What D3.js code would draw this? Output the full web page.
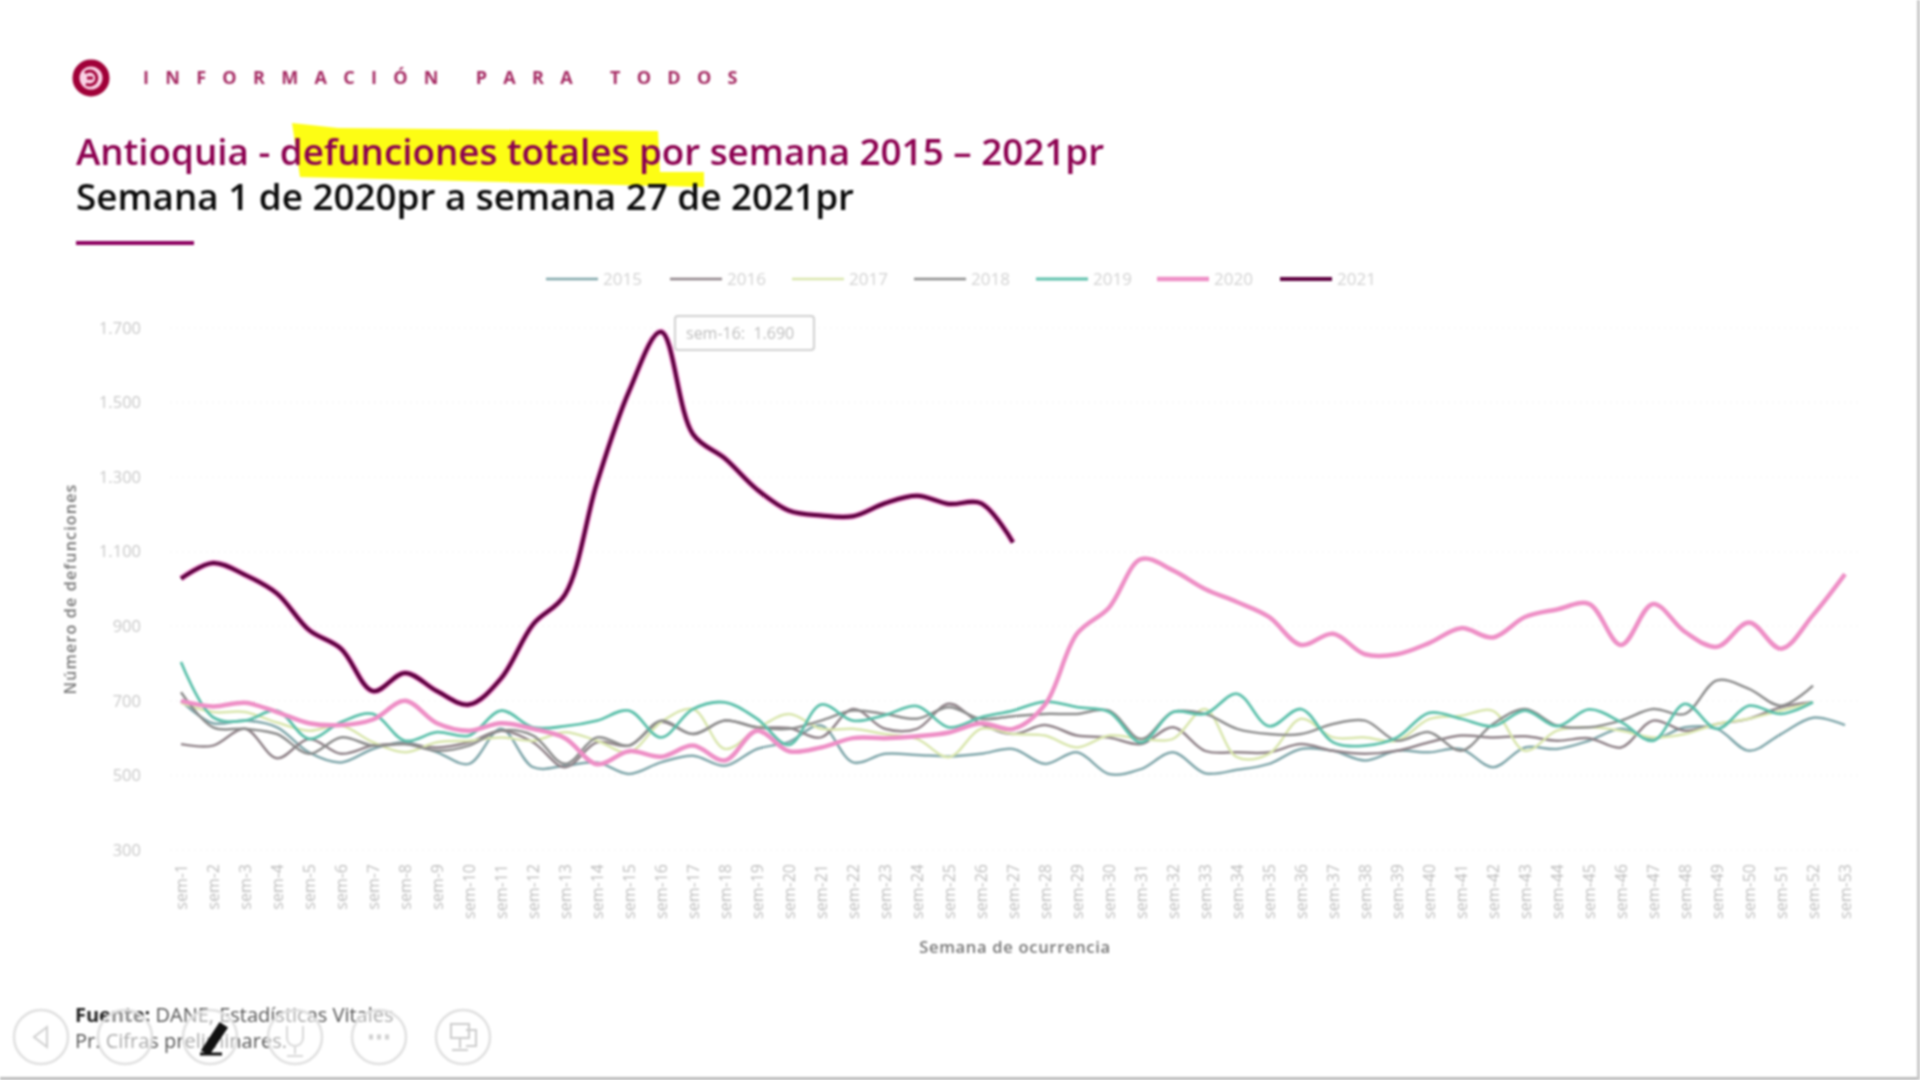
<!DOCTYPE html>
<html lang="es">
<head>
<meta charset="utf-8">
<title>Antioquia - defunciones totales por semana</title>
<script src="https://cdnjs.cloudflare.com/ajax/libs/d3/7.8.5/d3.min.js"></script>
<style>
  html, body { margin: 0; background: #fff; }
  svg { display: block; }
  text { font-family: "Open Sans", "Noto Sans", sans-serif; }
  #page { filter: blur(1px); }
</style>
</head>
<body>
<svg id="chart" width="1920" height="1080"></svg>
<script>
// values, by week
var weeks = [];
for (var w = 1; w <= 53; w++) weeks.push("sem-" + w);

var y2015 = [700,640,647,629,562,535,571,589,562,531,625,522,526,535,504,535,553,526,571,590,634,535,558,555,551,558,571,531,562,504,517,562,506,515,531,571,566,540,566,562,571,522,575,571,593,625,598,629,625,566,611,655,635];
var y2016 = [584,580,625,546,598,558,580,584,575,589,620,589,522,589,580,643,611,647,629,627,602,678,625,625,692,638,611,635,607,602,584,629,566,562,562,584,566,558,566,589,607,602,605,593,600,575,647,620,638,652,683,696];
var y2017 = [695,670,670,642,620,634,589,562,589,593,602,593,616,593,562,643,678,571,625,665,625,625,611,598,549,625,611,607,575,607,598,598,678,549,558,652,602,602,593,651,660,673,566,620,629,620,602,611,638,652,674,696];
var y2018 = [723,629,625,611,558,602,580,584,566,580,620,607,531,602,580,647,611,647,629,625,647,674,665,652,683,652,659,665,665,674,598,670,665,625,611,611,638,647,593,616,566,638,678,634,629,647,678,665,755,732,687,741];
var y2019 = [804,656,647,674,598,643,665,593,616,607,674,629,632,647,674,602,678,696,652,582,690,647,662,686,629,656,674,698,683,670,589,670,665,719,632,678,589,580,602,668,652,632,674,632,677,643,593,692,625,687,665,696];
var y2020 = [700,685,695,670,640,635,650,700,640,620,640,625,600,530,565,550,580,540,620,565,575,600,600,605,615,640,625,690,880,950,1080,1050,1000,965,925,850,880,825,825,855,895,870,925,945,960,850,960,885,845,910,840,930,1040];
var y2021 = [1028,1070,1038,988,890,840,726,775,726,690,760,905,985,1285,1530,1690,1415,1350,1267,1210,1197,1195,1230,1250,1228,1230,1125];

var seriesNames = ["2015","2016","2017","2018","2019","2020","2021"];
var seriesValues = [y2015,y2016,y2017,y2018,y2019,y2020,y2021];
var seriesColors = ["#7fa6aa","#8f8288","#d9e6ad","#8c8c8c","#5cc0ab","#ee8fc6","#5e0040"];
var seriesWidths = [2.5,2.5,2.5,2.5,2.8,4.5,4];

var yTicks = [300,500,700,900,1100,1300,1500,1700];
var yTickLabels = ["300","500","700","900","1.100","1.300","1.500","1.700"];

var peakLabel = "sem-16:\u00a0\u00a01.690";

var svg = d3.select("#chart");
var page = svg.append("g").attr("id", "page");

page.append("rect").attr("width", 1920).attr("height", 1080).attr("fill", "#fff");

var margin = {top: 328, right: 75, bottom: 230, left: 181};
var x = d3.scalePoint().domain(weeks).range([margin.left, 1920 - margin.right]);
var y = d3.scaleLinear().domain([300, 1700]).range([1080 - margin.bottom, margin.top]);

// Header
page.append("circle").attr("cx", 91).attr("cy", 78).attr("r", 15)
    .attr("fill", "#fbd3e6").attr("stroke", "#a00038").attr("stroke-width", 7);
page.append("path").attr("d", "M85 73 A7 7 0 1 1 86 84 M87 78 h6")
    .attr("fill", "none").attr("stroke", "#a00038").attr("stroke-width", 3);
page.append("text").text("INFORMACIÓN PARA TODOS")
    .attr("x", 143).attr("y", 84)
    .attr("font-size", 18).attr("font-weight", 700)
    .attr("letter-spacing", 16.3).attr("fill", "#a52a63");

// yellow marker behind the title
page.append("path")
    .attr("d", "M292 123 L338 128 L658 131 L660 172 L704 172 L704 187 L660 186 L300 177 L296 150 Z")
    .attr("fill", "#fdfd14");

page.append("text").text("Antioquia - defunciones totales por semana 2015 – 2021pr")
    .attr("x", 76).attr("y", 165)
    .attr("font-size", 36.8).attr("font-weight", 600).attr("fill", "#8c0050");
page.append("text").text("Semana 1 de 2020pr a semana 27 de 2021pr")
    .attr("x", 76).attr("y", 210)
    .attr("font-size", 36.8).attr("font-weight", 600).attr("fill", "#0a0a0a");
page.append("rect").attr("x", 76).attr("y", 241).attr("width", 118).attr("height", 4).attr("fill", "#8c0060");

// Legend
var legendX = [546,670,792,914,1036,1157,1280];
var legend = page.selectAll(".legend").data(seriesNames).enter().append("g")
    .attr("class", "legend")
    .attr("transform", function(d, i) { return "translate(" + legendX[i] + ",279)"; });
legend.append("line").attr("x1", 0).attr("x2", 52)
    .attr("stroke", function(d, i) { return seriesColors[i]; })
    .attr("stroke-width", function(d, i) { return i < 4 ? 2.5 : seriesWidths[i]; });
legend.append("text").text(function(d) { return d; })
    .attr("x", 57).attr("y", 6).attr("font-size", 17).attr("fill", "#d2d2d2");

// Axes
var axisY = page.append("g").attr("class", "axis axis-y")
    .attr("transform", "translate(141,0)")
    .call(d3.axisLeft(y).tickValues(yTicks).tickSize(0).tickPadding(0)
      .tickFormat(function(d, i) { return yTickLabels[i]; }));
axisY.select(".domain").remove();
axisY.selectAll("text").attr("font-size", 16.5).attr("fill", "#c8c8c8")
    .style("font-family", '"Open Sans", sans-serif');

page.selectAll(".grid").data(yTicks).enter().append("line")
    .attr("class", "grid")
    .attr("x1", 170).attr("x2", 1860)
    .attr("y1", function(d) { return y(d); })
    .attr("y2", function(d) { return y(d); })
    .attr("stroke", "#f5f5f5").attr("stroke-dasharray", "2 4");

var axisX = page.append("g").attr("class", "axis axis-x")
    .attr("transform", "translate(0,864)")
    .call(d3.axisBottom(x).tickSize(0).tickPadding(0));
axisX.select(".domain").remove();
axisX.selectAll("text")
    .attr("transform", "rotate(-90)")
    .attr("text-anchor", "end")
    .attr("x", 0).attr("y", 0).attr("dy", "0.35em")
    .attr("font-size", 16).attr("fill", "#bdbdbd")
    .style("font-family", '"Open Sans", sans-serif');

page.append("text").text("Número de defunciones")
    .attr("transform", "translate(76,589) rotate(-90)")
    .attr("text-anchor", "middle")
    .attr("font-size", 16).attr("font-weight", 600).attr("letter-spacing", 1.2).attr("fill", "#777");
page.append("text").text("Semana de ocurrencia")
    .attr("x", 1015).attr("y", 953)
    .attr("text-anchor", "middle")
    .attr("font-size", 16.5).attr("font-weight", 600).attr("letter-spacing", 0.7).attr("fill", "#777");

// Lines
var line = d3.line()
    .x(function(d, i) { return x(weeks[i]); })
    .y(function(d) { return y(d); })
    .curve(d3.curveCatmullRom);

// pink fringe around the 2021 line, from the video capture
page.append("path")
    .attr("d", line(y2021))
    .attr("fill", "none")
    .attr("stroke", "#f9a4dc")
    .attr("stroke-width", 6.5);

seriesValues.forEach(function(vals, i) {
  page.append("path")
      .attr("class", "line line-" + seriesNames[i])
      .attr("d", line(vals))
      .attr("fill", "none")
      .attr("stroke", seriesColors[i])
      .attr("stroke-width", seriesWidths[i])
      .attr("stroke-linejoin", "round");
});

// Tooltip on the 2021 peak
page.append("rect").attr("x", 675).attr("y", 316).attr("width", 139).attr("height", 34).attr("rx", 3)
    .attr("fill", "#fff").attr("stroke", "#d0d0d0").attr("stroke-width", 2);
page.append("text").text(peakLabel).attr("x", 686).attr("y", 339)
    .attr("font-size", 16).attr("fill", "#bdbdbd");

// Footer
var footer = page.append("text").attr("x", 75).attr("y", 1022).attr("font-size", 20).attr("fill", "#555");
footer.append("tspan").text("Fuente:").attr("font-weight", 700).attr("fill", "#222");
footer.append("tspan").text(" DANE, Estadísticas Vitales");
page.append("text").text("Pr: Cifras preliminares.").attr("x", 75).attr("y", 1048).attr("font-size", 20).attr("fill", "#555");

// slide show controls over the footer
var controlX = [41,125,210,295,379,463];
page.selectAll(".control").data(controlX).enter().append("circle")
    .attr("class", "control")
    .attr("cx", function(d) { return d; }).attr("cy", 1037).attr("r", 27)
    .attr("fill", "#fff").attr("fill-opacity", 0.5)
    .attr("stroke", "#e0e0e0").attr("stroke-width", 2.5);
page.append("path").attr("d", "M47 1027 L34 1037 L47 1047 Z").attr("fill", "none").attr("stroke", "#d0d0d0").attr("stroke-width", 2);
page.append("path").attr("d", "M200 1054 H222 M203 1050 L220 1024 L226 1028 L209 1053 Z").attr("fill", "#111").attr("stroke", "#111").attr("stroke-width", 3);
page.append("path").attr("d", "M287 1026 v12 a8 8 0 0 0 16 0 v-12 M295 1046 v8 M287 1056 h16").attr("fill", "none").attr("stroke", "#d8d8d8").attr("stroke-width", 2);
page.append("path").attr("d", "M369 1037 h4 M377 1037 h4 M385 1037 h4").attr("stroke", "#d0d0d0").attr("stroke-width", 5);
page.append("path").attr("d", "M451 1024 h18 v14 h-18 z M460 1038 v10 M452 1050 h16 M466 1030 h10 v16 h-10").attr("fill", "none").attr("stroke", "#cccccc").attr("stroke-width", 2);

// frame edge of the capture
page.append("rect").attr("x", 0).attr("y", 1077).attr("width", 1920).attr("height", 3).attr("fill", "#bcbcbc");
page.append("rect").attr("x", 1917).attr("y", 0).attr("width", 3).attr("height", 1080).attr("fill", "#c8c8c8");
</script>
</body>
</html>
